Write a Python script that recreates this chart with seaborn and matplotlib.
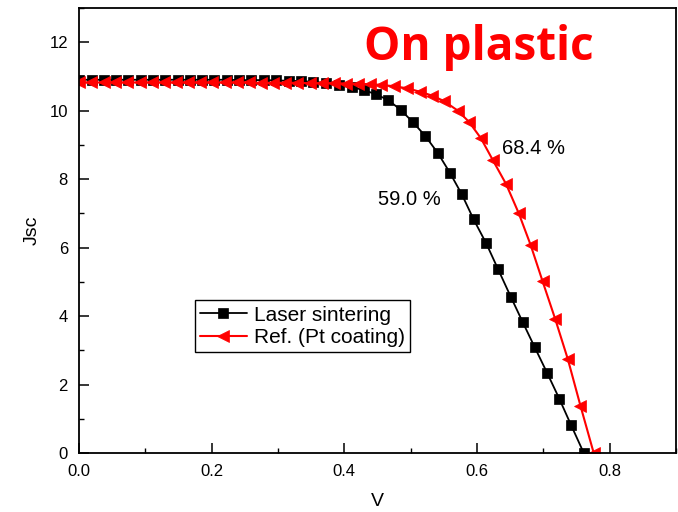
import numpy as np
import pandas as pd
import matplotlib
matplotlib.use("Agg")
import matplotlib.pyplot as plt
import seaborn as sns
from matplotlib.ticker import MultipleLocator

# Laser sintering counter electrode (black squares)
v_laser = [0.000, 0.019, 0.037, 0.056, 0.074, 0.093, 0.111, 0.130, 0.149, 0.167,
           0.186, 0.204, 0.223, 0.241, 0.260, 0.279, 0.297, 0.316, 0.334, 0.353,
           0.372, 0.392, 0.411, 0.430, 0.448, 0.466, 0.485, 0.503, 0.522, 0.541,
           0.559, 0.577, 0.595, 0.614, 0.632, 0.651, 0.669, 0.687, 0.706, 0.724,
           0.742, 0.761]
j_laser = [10.90, 10.90, 10.90, 10.90, 10.90, 10.90, 10.90, 10.90, 10.90, 10.90,
           10.90, 10.90, 10.90, 10.89, 10.89, 10.89, 10.88, 10.87, 10.86, 10.84,
           10.80, 10.74, 10.68, 10.60, 10.47, 10.31, 10.02, 9.67, 9.26, 8.76,
           8.19, 7.56, 6.82, 6.12, 5.36, 4.56, 3.82, 3.09, 2.33, 1.59,
           0.81, 0.00]

# Reference, Pt coating (red triangles)
v_ref = [0.000, 0.018, 0.037, 0.055, 0.073, 0.092, 0.110, 0.128, 0.146, 0.165,
         0.183, 0.201, 0.220, 0.238, 0.256, 0.275, 0.293, 0.311, 0.329, 0.348,
         0.366, 0.384, 0.403, 0.420, 0.438, 0.455, 0.475, 0.495, 0.514, 0.532,
         0.550, 0.571, 0.588, 0.606, 0.624, 0.644, 0.663, 0.681, 0.699, 0.718,
         0.737, 0.756, 0.776]
j_ref = [10.82, 10.82, 10.82, 10.82, 10.82, 10.82, 10.82, 10.82, 10.82, 10.82,
         10.82, 10.82, 10.82, 10.82, 10.82, 10.81, 10.81, 10.81, 10.81, 10.80,
         10.80, 10.80, 10.79, 10.78, 10.77, 10.75, 10.71, 10.65, 10.55, 10.44,
         10.28, 10.00, 9.67, 9.19, 8.55, 7.85, 7.00, 6.07, 5.01, 3.91,
         2.74, 1.38, 0.00]

labels = ["Laser sintering", "Ref. (Pt coating)"]
eff_labels = ["59.0 %", "68.4 %"]


def main():
    sns.set_theme(style="ticks")
    plt.rcParams["font.family"] = ["Liberation Sans", "DejaVu Sans"]
    plt.rcParams["text.color"] = "black"
    plt.rcParams["axes.labelcolor"] = "black"

    fig = plt.figure(figsize=(6.78, 5.12), dpi=100)
    ax = fig.add_axes([0.1165, 0.1152, 0.8805, 0.8695])

    laser = pd.DataFrame({"V": v_laser, "J": j_laser})
    ref = pd.DataFrame({"V": v_ref, "J": j_ref})

    sns.lineplot(data=laser, x="V", y="J", ax=ax, sort=False, color="black",
                 marker="s", markersize=6.5, markeredgecolor="black",
                 markeredgewidth=0.5, linewidth=1.3, label=labels[0])
    sns.lineplot(data=ref, x="V", y="J", ax=ax, sort=False, color="red",
                 marker="<", markersize=9, markeredgecolor="red",
                 markeredgewidth=0.5, linewidth=1.5, label=labels[1])

    ax.set_xlim(0, 0.9)
    ax.set_ylim(0, 13)
    ax.xaxis.set_major_locator(MultipleLocator(0.2))
    ax.xaxis.set_minor_locator(MultipleLocator(0.1))
    ax.yaxis.set_major_locator(MultipleLocator(2))
    ax.yaxis.set_minor_locator(MultipleLocator(1))
    ax.tick_params(which="major", direction="in", length=7, width=1.1,
                   labelsize=12, pad=8, colors="black")
    ax.tick_params(which="minor", direction="in", length=3.5, width=1.0,
                   colors="black")
    ax.tick_params(axis="x", which="both", top=False)
    for s in ax.spines.values():
        s.set_linewidth(1.3)
        s.set_color("black")

    ax.set_xlabel("V", fontsize=14, labelpad=10)
    ax.set_ylabel("Jsc", fontsize=14, labelpad=6)

    ax.text(0.603, 11.47, "On plastic", color="red", fontsize=33,
            fontweight="bold", family=["Open Sans", "DejaVu Sans"],
            ha="center", va="baseline")
    ax.text(0.451, 7.24, eff_labels[0], fontsize=14.5, ha="left", va="baseline")
    ax.text(0.637, 8.72, eff_labels[1], fontsize=14.5, ha="left", va="baseline")

    leg = ax.legend(loc="upper left", bbox_to_anchor=(0.194, 0.343),
                    borderaxespad=0, fontsize=15, frameon=True, fancybox=False,
                    handlelength=2.25, handletextpad=0.35, labelspacing=0.18,
                    borderpad=0.25)
    leg.get_frame().set_edgecolor("black")
    leg.get_frame().set_linewidth(1.0)
    leg.get_frame().set_alpha(1)
    for t in leg.get_texts():
        t.set_color("black")

    fig.savefig("out.png", dpi=100)
    plt.close(fig)


if __name__ == "__main__":
    main()
